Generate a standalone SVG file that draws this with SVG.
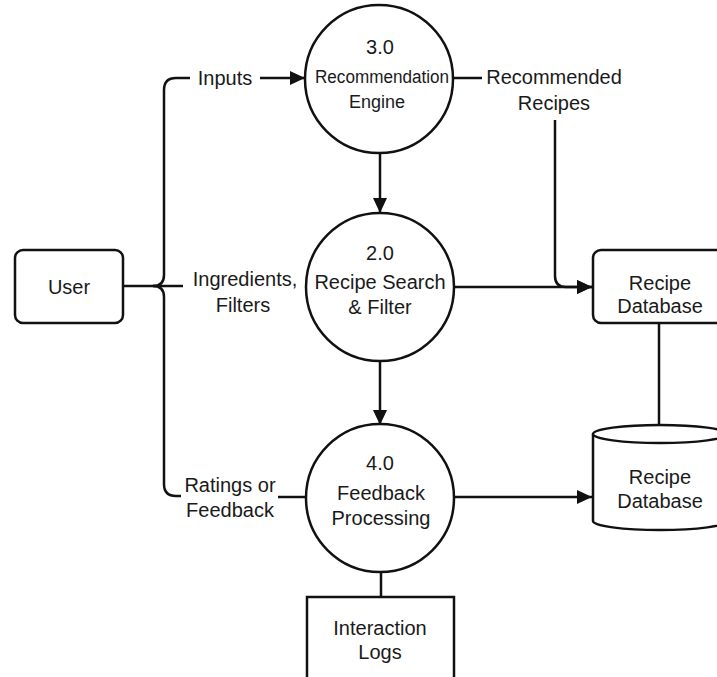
<svg xmlns="http://www.w3.org/2000/svg" width="717" height="677" viewBox="0 0 717 677">
  <style>
    .shape { fill: #ffffff; stroke: #111111; stroke-width: 2.5; }
    .line { fill: none; stroke: #111111; stroke-width: 2.5; }
    text { font-family: "Liberation Sans", Arial, Helvetica, sans-serif; font-size: 20px; fill: #1a1a1a; text-anchor: middle; }
    .small { font-size: 18px; }
  </style>
  <defs>
    <marker id="arrow" markerUnits="userSpaceOnUse" markerWidth="16" markerHeight="14" refX="15" refY="7" orient="auto">
      <path d="M0,0 L15,7 L0,14 z" fill="#111111"/>
    </marker>
  </defs>
  <rect width="717" height="677" fill="#ffffff"/>

  <!-- data flows -->
  <g id="connectors">
    <!-- brace from User fanning out to the three processes -->
    <path class="line" d="M123,286 L153,286 Q164,286 164,275 L164,90 Q164,78 176,78 L190,78"/>
    <path class="line" d="M153,286 Q164,286 164,297 L164,484 Q164,496 176,496 L181,496"/>
    <path class="line" d="M153,286 L183,286"/>
    <path class="line" d="M260,78 L305,78" marker-end="url(#arrow)"/>
    <path class="line" d="M278,497 L305,497"/>
    <!-- 3.0 to 2.0 to 4.0 -->
    <path class="line" d="M380,153 L380,213" marker-end="url(#arrow)"/>
    <path class="line" d="M380,361 L380,425" marker-end="url(#arrow)"/>
    <!-- recommended recipes into database -->
    <path class="line" d="M454,78 L482,78"/>
    <path class="line" d="M555,120 L555,276 Q555,287 566,287 L592,287" marker-end="url(#arrow)"/>
    <path class="line" d="M454,287 L592,287" marker-end="url(#arrow)"/>
    <!-- database link -->
    <path class="line" d="M659,323 L659,425"/>
    <!-- feedback to store -->
    <path class="line" d="M455,497 L592,497" marker-end="url(#arrow)"/>
    <!-- feedback to logs -->
    <path class="line" d="M381,572 L381,597"/>
  </g>

  <!-- flow labels -->
  <g id="flow-labels">
    <text x="225" y="85">Inputs</text>
    <text x="245" y="286">Ingredients,</text>
    <text x="243" y="312">Filters</text>
    <text x="230" y="492">Ratings or</text>
    <text x="230" y="517">Feedback</text>
    <text x="554" y="84">Recommended</text>
    <text x="554" y="110">Recipes</text>
  </g>

  <g id="user">
    <rect class="shape" x="15" y="250" width="108" height="73" rx="8"/>
    <text x="69" y="294">User</text>
  </g>

  <g id="p3-recommendation-engine">
    <circle class="shape" cx="379" cy="79" r="74"/>
    <text x="380" y="54">3.0</text>
    <text class="small" x="382" y="83" textLength="134" lengthAdjust="spacingAndGlyphs">Recommendation</text>
    <text class="small" x="377" y="108">Engine</text>
  </g>

  <g id="p2-recipe-search">
    <circle class="shape" cx="380" cy="287" r="74"/>
    <text x="380" y="260">2.0</text>
    <text x="380" y="289">Recipe Search</text>
    <text x="380" y="314">&amp; Filter</text>
  </g>

  <g id="p4-feedback-processing">
    <circle class="shape" cx="380" cy="498" r="74"/>
    <text x="380" y="470">4.0</text>
    <text x="381" y="500">Feedback</text>
    <text x="381" y="525">Processing</text>
  </g>

  <g id="recipe-database-entity">
    <rect class="shape" x="593" y="250" width="134" height="73" rx="8"/>
    <text x="660" y="290">Recipe</text>
    <text x="660" y="313">Database</text>
  </g>

  <g id="recipe-database-store">
    <path class="shape" d="M593,434 L593,521 A67,9 0 0 0 727,521 L727,434"/>
    <ellipse class="shape" cx="660" cy="434" rx="67" ry="9"/>
    <text x="660" y="484">Recipe</text>
    <text x="660" y="508">Database</text>
  </g>

  <g id="interaction-logs">
    <rect class="shape" x="307" y="597" width="147" height="95"/>
    <text x="380" y="635">Interaction</text>
    <text x="380" y="659">Logs</text>
  </g>
</svg>
